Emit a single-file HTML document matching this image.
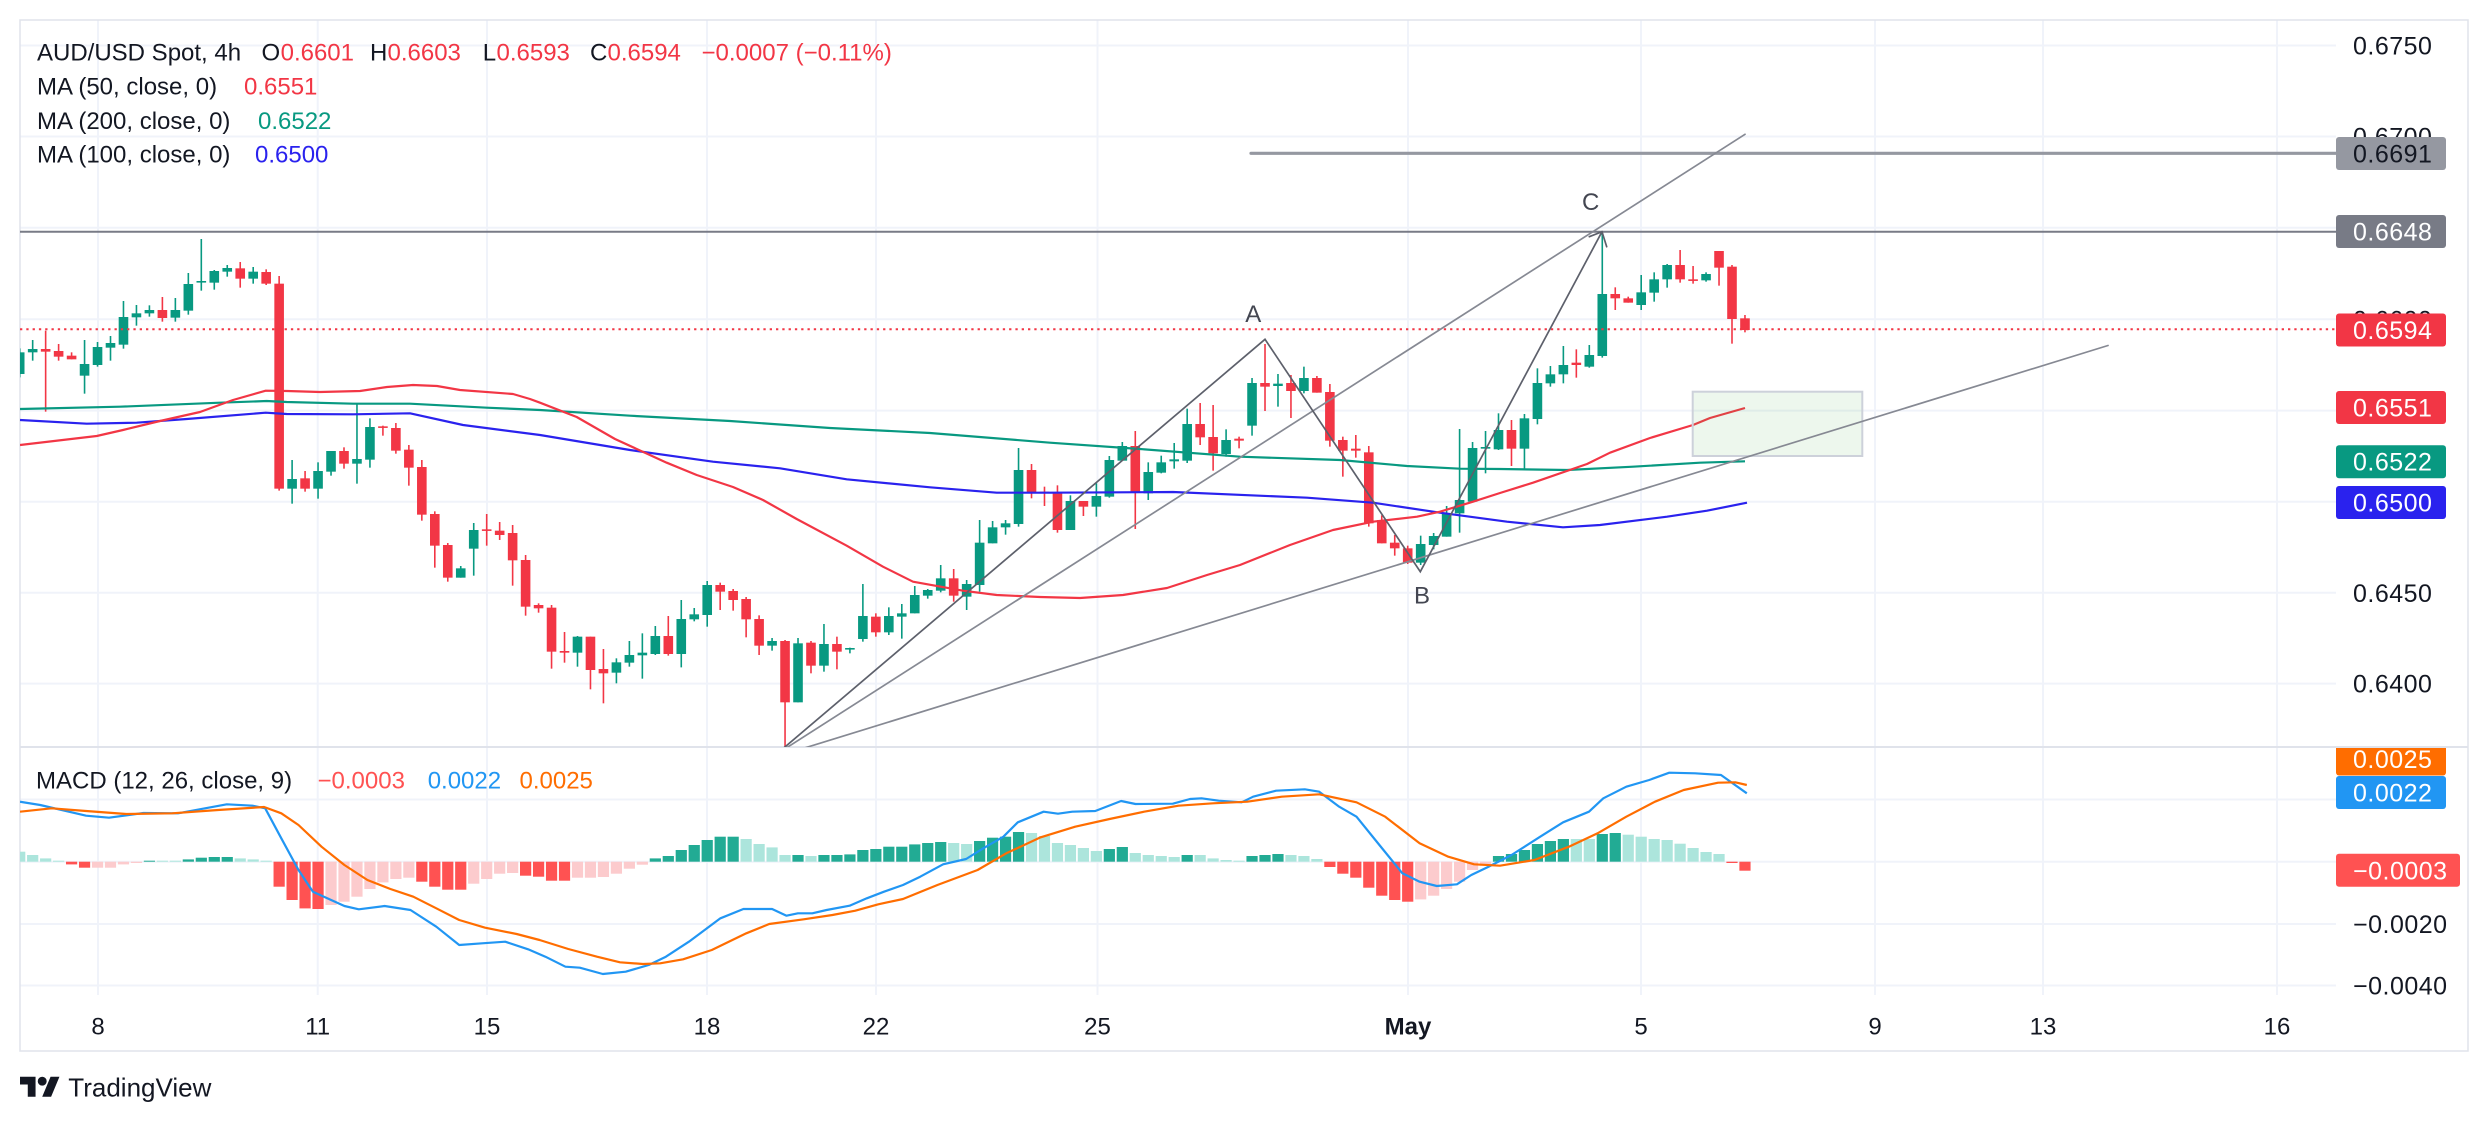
<!DOCTYPE html>
<html><head><meta charset="utf-8">
<style>
html,body{margin:0;padding:0;background:#fff;}
svg{display:block;}
text{font-family:"Liberation Sans",Arial,sans-serif;}
</style></head>
<body>
<svg id="s" width="2488" height="1122" viewBox="0 0 2488 1122" xmlns="http://www.w3.org/2000/svg">
<defs>
<clipPath id="cp"><rect x="20" y="20" width="2316" height="727"/></clipPath>
<clipPath id="cm"><rect x="20" y="748" width="2316" height="247"/></clipPath>
<clipPath id="ca"><rect x="2336" y="748" width="140" height="247"/></clipPath>
</defs>
<rect width="2488" height="1122" fill="#fff"/>
<!-- grid -->
<g stroke="#f0f3fa" stroke-width="2">
<line x1="98" y1="20" x2="98" y2="995"/>
<line x1="317.7" y1="20" x2="317.7" y2="995"/>
<line x1="487" y1="20" x2="487" y2="995"/>
<line x1="707" y1="20" x2="707" y2="995"/>
<line x1="876" y1="20" x2="876" y2="995"/>
<line x1="1097.5" y1="20" x2="1097.5" y2="995"/>
<line x1="1408" y1="20" x2="1408" y2="995"/>
<line x1="1641" y1="20" x2="1641" y2="995"/>
<line x1="1875" y1="20" x2="1875" y2="995"/>
<line x1="2043" y1="20" x2="2043" y2="995"/>
<line x1="2277" y1="20" x2="2277" y2="995"/>
<line x1="20" y1="45.5" x2="2336" y2="45.5"/>
<line x1="20" y1="136.5" x2="2336" y2="136.5"/>
<line x1="20" y1="227.8" x2="2336" y2="227.8"/>
<line x1="20" y1="319.3" x2="2336" y2="319.3"/>
<line x1="20" y1="410.6" x2="2336" y2="410.6"/>
<line x1="20" y1="501.7" x2="2336" y2="501.7"/>
<line x1="20" y1="592.8" x2="2336" y2="592.8"/>
<line x1="20" y1="683.6" x2="2336" y2="683.6"/>
<line x1="20" y1="799.5" x2="2336" y2="799.5"/>
<line x1="20" y1="861.7" x2="2336" y2="861.7"/>
<line x1="20" y1="924" x2="2336" y2="924"/>
<line x1="20" y1="985.5" x2="2336" y2="985.5"/>
</g>
<!-- frame -->
<rect x="20" y="20" width="2448" height="1031" fill="none" stroke="#e0e3eb" stroke-width="1.5"/>
<line x1="20" y1="747" x2="2468" y2="747" stroke="#e0e3eb" stroke-width="2"/>

<g id="candles" clip-path="url(#cp)"></g>
<g clip-path="url(#cp)" fill="none" stroke-width="2.2" stroke-linejoin="round">
<polyline stroke="#089981" points="20,409 120,406.7 220,402.7 266.7,401 286.7,402 353,403.7 410,403.7 486.7,407.7 540,410 630,415.7 730,421 830,428 930,433 1050,442.7 1140,449 1240,456.7 1340,460 1407,466 1460,468.7 1500,469 1567,470 1633,466.7 1700,462.7 1745,461.3"/>
<polyline stroke="#2a22ee" points="20,420 86.7,423.7 136.7,422.7 186.7,419 265.7,412.7 286.7,414 353,414.3 410,413.3 463,425 540,435 630,450 713,461.7 780,468.3 846.7,479.3 930,487.3 996.7,492.7 1050,492.7 1173,492 1307,497.7 1373,502.7 1440,512.7 1507,521.7 1563,527.3 1600,525 1667,516.7 1707,510.7 1747,502.7"/>
<polyline stroke="#f23645" points="20,445 96.7,436 123,430 160,421 200,412 233,400 265.7,390.7 287,391 320,392 360,391 387,387 413,385 437,386 460,390 513,394 530,399 540,402.7 576.7,417 615,439 666.7,462.7 696.7,475 733,487 763,500 796.7,519 846.7,545.7 883,566.7 913,581.7 963,590.7 996.7,595 1040,597 1080,598 1123,595 1167,588 1207,575 1240,565 1290,545 1333,530 1373,521.7 1417,516.7 1440,511.7 1473,501.7 1500,493 1533,482.7 1587,464 1610,452.7 1650,438 1693,425 1710,418 1745,408"/>
</g>
<!-- drawings -->
<g clip-path="url(#cp)">
<line x1="20" y1="329.3" x2="2336" y2="329.3" stroke="#f23645" stroke-width="2" stroke-dasharray="2.3 4"/>
<rect x="1692.7" y="391.7" width="169.6" height="64.3" fill="#4caf50" fill-opacity="0.1" stroke="#cdd1da" stroke-width="2"/>
<line x1="20" y1="231.7" x2="2336" y2="231.7" stroke="#787b86" stroke-width="2"/>
<line x1="1251" y1="153.3" x2="2336" y2="153.3" stroke="#9598a1" stroke-width="3.2" stroke-linecap="round"/>
<g stroke-width="1.7" fill="none" stroke-linecap="round">
<line x1="780" y1="752" x2="1745" y2="134.3" stroke="#868993"/>
<line x1="790" y1="752.5" x2="2108" y2="345.5" stroke="#868993"/>
<polyline points="779,752 1265,339.3 1420.3,571.7 1602,231.7" stroke="#5d606b" stroke-linejoin="miter"/>
<polyline points="1589.3,236.7 1602,231.7 1606.7,246.7" stroke="#5d606b"/>
</g>
<g font-size="24" fill="#434651">
<text x="1253.3" y="322" text-anchor="middle">A</text>
<text x="1422" y="603.5" text-anchor="middle">B</text>
<text x="1590.7" y="210" text-anchor="middle">C</text>
</g>
</g>

<!-- MACD -->
<g id="hist" clip-path="url(#cm)"></g>
<g clip-path="url(#cm)" fill="none" stroke-width="2.2" stroke-linejoin="round">
<polyline stroke="#2196f3" points="20,801.7 40.2,805 86.1,815.7 109,817.7 143.5,813 178,813.3 226.8,804.3 252.6,805.7 265.2,808.3 281.3,838.3 298.5,870 312.9,891.7 344.4,906 358.8,909.3 384.6,906 410.5,910 436.3,926.7 459.2,945 482.2,943.3 505.2,941.7 528.1,949.3 545.4,956.7 565.4,966.7 579.8,967.7 602.8,974 625.7,971.7 648.7,965 665.9,956.7 688.9,941.7 720.4,918.3 743.4,909 772.1,909 786.5,915.7 797.9,913.3 812.3,913.3 826.6,910 849.6,905.7 866.8,898.3 884,891.7 903,885 920.2,876.7 943.1,864.3 966.1,859 983.3,848.3 1003.4,836.7 1017.8,822.3 1043.6,811.7 1058,813.7 1072.3,811.7 1095.3,811 1121.1,801 1135.5,804 1172.8,803.7 1190,799 1201.5,798.3 1218.7,800.7 1241.7,802.3 1253.1,796.7 1276.1,790.7 1304.8,789.3 1319.2,791.7 1339.2,806.7 1356.5,816.7 1379.4,845 1402.4,873.3 1419.6,881.7 1436.8,886 1456.9,884.3 1471.3,875 1488.5,866.7 1511.5,855 1540.2,836.7 1563.1,822.3 1589,811.7 1603.3,798.3 1626.3,786.7 1649.2,780 1669.3,772.7 1695.2,773.3 1721,775 1746.8,793.3"/>
<polyline stroke="#ff6d00" points="20,811.7 51.7,808.3 86.1,811 126.3,814 172.2,813.3 218.1,810 264.1,807 281.3,813.3 298.5,825 321.5,846.7 344.4,865 367.4,880 390.4,889 413.3,896.7 436.3,908.3 459.2,920 485.1,927.7 516.6,934 539.6,940 568.3,949 597,956.7 620,962.3 643,964 660.2,963.3 683.1,959.3 711.8,950 746.3,933.3 769.2,924 803.7,919.3 832.4,915 855.3,910.7 878.3,904.3 903,899 937.4,885 977.6,870 1006.3,853.3 1040.7,837.3 1075.2,826.7 1109.6,819 1144.1,811.7 1178.5,805.7 1213,803.3 1247.4,801.7 1281.8,796.7 1319.2,794.3 1356.5,802.3 1385.2,816.7 1419.6,843.3 1448.3,856.7 1474.1,864.3 1500,865.7 1534.4,860 1568.9,846.7 1597.6,833.3 1626.3,816.7 1655,801.7 1683.7,790 1718.1,782.7 1735.3,782.3 1746.8,785"/>
</g>

<!-- legends -->
<g font-size="24" fill="#131722">
<text x="37" y="60.3">AUD/USD Spot, 4h</text>
<text x="261.5" y="60.3">O</text><text x="280.6" y="60.3" fill="#f23645">0.6601</text>
<text x="370" y="60.3">H</text><text x="387.5" y="60.3" fill="#f23645">0.6603</text>
<text x="482.8" y="60.3">L</text><text x="496.5" y="60.3" fill="#f23645">0.6593</text>
<text x="590" y="60.3">C</text><text x="607.5" y="60.3" fill="#f23645">0.6594</text>
<text x="701.5" y="60.3" fill="#f23645">−0.0007 (−0.11%)</text>
<text x="37" y="94.6">MA (50, close, 0)</text><text x="244" y="94.6" fill="#f23645">0.6551</text>
<text x="37" y="128.9">MA (200, close, 0)</text><text x="258" y="128.9" fill="#089981">0.6522</text>
<text x="37" y="162.6">MA (100, close, 0)</text><text x="255" y="162.6" fill="#2a22ee">0.6500</text>
<text x="36" y="788.6">MACD (12, 26, close, 9)</text>
<text x="317.5" y="788.6" fill="#ff5252">−0.0003</text>
<text x="427.7" y="788.6" fill="#2196f3">0.0022</text>
<text x="519.5" y="788.6" fill="#ff6d00">0.0025</text>
</g>

<!-- price axis -->
<g font-size="25" fill="#131722" letter-spacing="0.5">
<text x="2353" y="54.5">0.6750</text>
<text x="2353" y="145.5">0.6700</text>
<text x="2353" y="236.8">0.6650</text>
<text x="2353" y="328.3">0.6600</text>
<text x="2353" y="419.6">0.6550</text>
<text x="2353" y="510.7">0.6500</text>
<text x="2353" y="601.8">0.6450</text>
<text x="2353" y="692.6">0.6400</text>
<text x="2353" y="808.5">0.0020</text>
<text x="2353" y="933">−0.0020</text>
<text x="2353" y="994.5">−0.0040</text>
</g>
<g font-size="25" letter-spacing="0.5">
<rect x="2336" y="137" width="110" height="33" rx="3" fill="#9598a1"/>
<text x="2353" y="162.5" fill="#131722">0.6691</text>
<rect x="2336" y="215" width="110" height="33" rx="3" fill="#787b86"/>
<text x="2353" y="240.5" fill="#fff">0.6648</text>
<rect x="2336" y="313.5" width="110" height="33" rx="3" fill="#f23645"/>
<text x="2353" y="339" fill="#fff">0.6594</text>
<rect x="2336" y="391" width="110" height="33" rx="3" fill="#f23645"/>
<text x="2353" y="416.5" fill="#fff">0.6551</text>
<rect x="2336" y="445.2" width="110" height="33" rx="3" fill="#089981"/>
<text x="2353" y="470.7" fill="#fff">0.6522</text>
<rect x="2336" y="486" width="110" height="33" rx="3" fill="#2a22ee"/>
<text x="2353" y="511.5" fill="#fff">0.6500</text>
<g clip-path="url(#ca)">
<rect x="2336" y="742.5" width="110" height="33" rx="3" fill="#ff6d00"/>
<text x="2353" y="768" fill="#fff">0.0025</text>
</g>
<rect x="2336" y="776" width="110" height="33" rx="3" fill="#2196f3"/>
<text x="2353" y="801.5" fill="#fff">0.0022</text>
<rect x="2336" y="853.8" width="124" height="33" rx="3" fill="#ff5252"/>
<text x="2353" y="879.3" fill="#fff">−0.0003</text>
</g>

<!-- time axis -->
<g font-size="24" fill="#131722" text-anchor="middle">
<text x="98" y="1034.6">8</text>
<text x="317.7" y="1034.6">11</text>
<text x="487" y="1034.6">15</text>
<text x="707" y="1034.6">18</text>
<text x="876" y="1034.6">22</text>
<text x="1097.5" y="1034.6">25</text>
<text x="1408" y="1034.6" font-weight="bold">May</text>
<text x="1641" y="1034.6">5</text>
<text x="1875" y="1034.6">9</text>
<text x="2043" y="1034.6">13</text>
<text x="2277" y="1034.6">16</text>
</g>

<!-- logo -->
<g transform="translate(20,1072.3) scale(1.111)" fill="#131722">
<path d="M14 22H7V11H0V4h14v18zM28 22h-8l7.5-18h8L28 22z"/>
<circle cx="20" cy="8" r="4"/>
</g>
<text x="68.3" y="1096.7" font-size="26" fill="#131722">TradingView</text>
</svg>
<script>
(function(){
var NS="http://www.w3.org/2000/svg";
function el(p,t,a){var e=document.createElementNS(NS,t);for(var k in a)e.setAttribute(k,a[k]);p.appendChild(e);return e;}
var X0=32.67,STEP=12.972;
function cx(i){return X0+i*STEP;}
var COL={g:"#089981",r:"#f23645"};
var groups=[
[220,-1,[
['g',385,397,462,472],['g',360,387,397,422],['r',332,387,395,575],['r',372,393,410,422],['r',397,407,418,418],
['g',360,432,467,521],['g',366,381,435,440],['g',348,369,383,422],['g',243,291,374,386],['g',255,280,292,317],
['g',256,270,280,290],['r',231,270,294,305],['g',234,270,293,305],['g',159,192,272,284],['g',57,183,187,212],
['g',150,153,188,209],['g',135,144,155,170],['r',126,145,176,203],['g',141,155,176,191],['r',148,156,191,195],
['r',168,191,806,812],['g',720,777,806,851],['r',753,775,806,815],['g',727,753,806,836],['g',693,693,755,767],
['r',682,693,731,746],['g',552,717,731,791],['g',595,621,719,743],['r',617,619,623,647],['r',609,624,692,701],
['r',675,689,743,797],['r',720,741,884,902],['r',874,882,977,1043],['r',969,975,1073,1085],['g',1038,1045,1073,1073],
['g',909,930,986,1067],['r',882,928,932,977],['r',906,932,945,960],['r',915,939,1021,1097],['r',1005,1020,1160,1187]
]],
[220,39,[
['r',1150,1155,1165,1178],['r',1155,1163,1295,1346],['r',1236,1293,1298,1328],['g',1248,1250,1298,1340],['r',1250,1250,1350,1408],
['r',1287,1347,1360,1450],['g',1315,1327,1358,1390],['g',1263,1305,1328,1340],['g',1240,1298,1306,1376],['g',1218,1248,1302,1305],
['r',1188,1248,1302,1307],['g',1140,1197,1302,1342],['g',1164,1183,1198,1204],['g',1083,1095,1185,1220],['r',1088,1095,1115,1170],
['r',1107,1113,1140,1172],['r',1131,1137,1198,1252],['r',1186,1197,1277,1305],['g',1254,1263,1277,1292],['r',1260,1263,1447,1590],
['g',1254,1270,1447,1447],['r',1263,1268,1337,1360],['g',1212,1272,1337,1355],['r',1250,1272,1295,1348],['g',1283,1284,1288,1300],
['g',1092,1188,1257,1265],['r',1180,1190,1237,1250],['g',1162,1188,1237,1245],['g',1152,1180,1190,1256],['g',1098,1125,1180,1180],
['g',1107,1110,1127,1136],['g',1035,1075,1112,1117],['r',1047,1075,1127,1145],['g',1080,1092,1130,1170],['g',900,968,1095,1115],
['g',903,922,970,970],['g',900,910,922,944],['g',684,750,912,920],['r',732,750,818,835]
]],
[220,78,[
['r',800,815,820,858],['r',796,816,930,938],['g',826,843,930,930],['r',843,843,860,888],['g',790,828,860,890],
['g',708,720,830,833],['g',666,678,722,723],['r',633,678,818,927],['g',727,756,820,840],['g',707,727,758,760],
['g',669,718,724,746],['g',566,612,722,729],['r',549,612,652,675],['r',555,651,700,752],['g',628,660,702,710],
['r',650,656,662,685],['g',474,489,617,647],['r',372,489,500,573],['g',462,491,498,560],['r',465,489,513,594],
['g',440,474,513,520],['r',468,474,518,518],['r',492,516,662,680],['r',650,660,692,770],['r',645,686,692,713],
['r',678,697,910,920],['r',886,900,970,970],['r',945,968,985,1007],['r',977,985,1028,1032],['g',947,972,1028,1035],
['g',939,948,975,988],['g',858,880,950,950],['g',627,840,880,938],['g',666,684,845,845],['g',633,681,686,760],
['g',580,630,688,690],['r',600,630,686,738],['g',582,595,686,750],['g',445,489,597,613]
]],
[100,117,[
['g',798,823,850,860],['g',738,795,823,850],['r',748,788,795,833],['g',735,765,800,803],['g',395,582,768,773],
['r',562,582,595,630],['r',590,595,608,608],['g',525,577,615,630],['g',517,538,578,605],['g',492,495,538,563],
['r',450,495,538,548],['r',498,538,542,551],['g',517,522,541,545],['r',453,453,503,557],['r',495,500,657,731],
['r',645,655,690,697]
]]
];
var cg=document.getElementById('candles');
groups.forEach(function(gr){
  var off=gr[0],start=gr[1],arr=gr[2];
  arr.forEach(function(c,k){
    var i=start+k,x=cx(i),col=COL[c[0]];
    var wt=off+c[1]/3,bt=off+c[2]/3,bb=off+c[3]/3,wb=off+c[4]/3;
    el(cg,'line',{x1:x,y1:wt,x2:x,y2:wb,stroke:col,'stroke-width':1.6});
    var h=Math.max(1.6,bb-bt);
    el(cg,'rect',{x:x-4.8,y:bt,width:9.6,height:h,fill:col});
  });
});
var HC={G:"#22ab94",g:"#ace5dc",R:"#ff5252",r:"#fccbcd"};
var hist=[
['g',10],['g',6.7],['g',3.3],['g',1],['R',-2.7],['R',-6],['r',-6],['r',-6],['r',-2.7],['r',-1.3],
['G',1],['g',1],['g',1],['G',2.3],['G',4],['G',4.7],['G',4.7],['g',3.3],['g',2.3],['g',1],
['R',-25],['R',-38.3],['R',-46.7],['R',-47.3],['r',-43.3],['r',-40],['r',-35],['r',-27.3],['r',-20.7],['r',-17.3],
['r',-16],['R',-20],['R',-25],['R',-28],['R',-28],['r',-22],['r',-17.3],['r',-12],['r',-11.3],['R',-14],
['R',-15],['R',-19],['R',-19],['r',-16],['r',-16],['r',-15.3],['r',-12],['r',-7],['r',-3],['G',3.3],
['G',5.7],['G',11.7],['G',16.7],['G',21.7],['G',25],['G',25],['g',22.7],['g',17.7],['g',14.3],['g',6.7],
['G',6.7],['g',5.7],['G',6.7],['G',6.7],['G',7.3],['G',11.7],['G',12.7],['G',15],['G',15],['G',17.3],
['G',18.7],['G',19.7],['g',18.7],['g',17.7],['G',20.7],['G',24],['G',25],['G',29.7],['g',28.7],['g',25.7],
['g',18.7],['g',16.7],['g',13.7],['g',10.7],['G',12.7],['G',14.7],['g',8.7],['g',6.7],['g',5.7],['g',4.7],
['G',6.7],['g',6.7],['g',3.3],['g',1.7],['g',1],['G',5.7],['G',6.7],['G',7.7],['g',6.7],['g',5.7],
['g',2.7],['R',-5.3],['R',-12],['R',-16],['R',-26],['R',-34],['R',-38.3],['R',-40],['r',-37.7],['r',-34],
['r',-27.3],['r',-20],['r',-8.3],['r',-4],['G',5.7],['G',7.7],['G',11.7],['G',17.7],['G',20.7],['G',22.7],
['g',22.7],['g',22.7],['G',27.7],['G',28.7],['g',27],['g',25],['g',22.7],['g',21.7],['g',18],['g',13.7],
['g',9.7],['g',7.7],['R',-1.3],['R',-9]
];
var hg=document.getElementById('hist');
var Z=861.7;
hist.forEach(function(h,k){
  var i=k-1,x=cx(i),v=h[1];
  var y=v>0?Z-v:Z, hh=Math.max(1,Math.abs(v));
  el(hg,'rect',{x:x-5.6,y:y,width:11.2,height:hh,fill:HC[h[0]]});
});
})();
</script>
</body></html>
